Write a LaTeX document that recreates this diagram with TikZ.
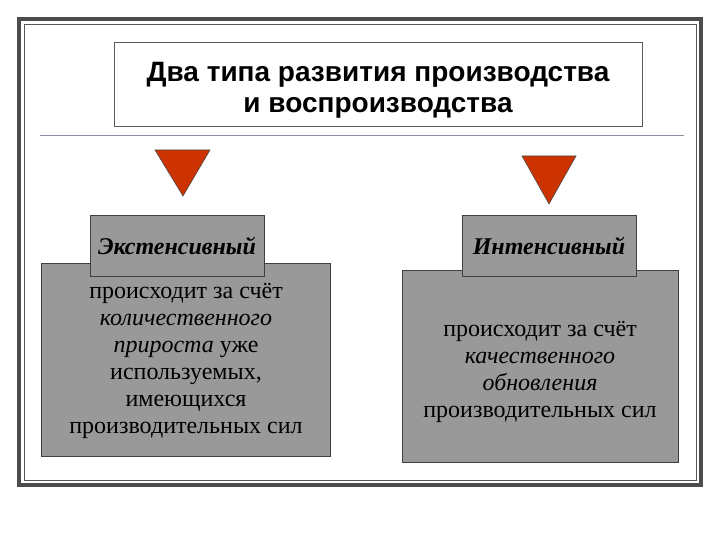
\documentclass[tikz,border=0pt]{standalone}
\usepackage{fontspec}
\setmainfont{Liberation Serif}
\newfontfamily\titlefont{Liberation Sans}
\definecolor{trired}{RGB}{204,51,0}
\begin{document}
\begin{tikzpicture}[x=1pt,y=-1pt,
  redtri/.style={fill=trired, draw=black!70, line width=0.6pt},
  labelbox/.style={draw=black!75, fill=black!40, line width=1pt},
  bigbox/.style={draw=black!75, fill=black!40, line width=1pt},
  bodytext/.style={align=center, font=\fontsize{24}{27}\selectfont, text=black},
  labeltext/.style={font=\fontsize{24}{26}\selectfont\bfseries\itshape}
]
\useasboundingbox (0,0) rectangle (720,540);
% frame
\draw[line width=4pt, draw=black!70] (19,19) rectangle (701,485);
\draw[line width=0.8pt, draw=black!65] (24,24) rectangle (696,480);
% title
\draw[line width=0.8pt, draw=black!65] (114,42) rectangle (642,126);
\node[font=\titlefont\fontsize{28}{31}\selectfont\bfseries, align=center] (title) at (378,90)
  {Два типа развития производства\\и воспроизводства};
\draw[line width=0.6pt, draw=blue!20!black!45] (40,135) -- (684,135);
% triangles
\draw[redtri] (155,150) -- (210,150) -- (183,196) -- cycle;
\draw[redtri] (522,156) -- (576,156) -- (549,204) -- cycle;
% left
\draw[bigbox] (41,263) rectangle (330,456);
\node[bodytext] (ltext) at (186,361)
  {происходит за счёт\\\textit{количественного}\\\textit{прироста} уже\\используемых,\\имеющихся\\производительных сил};
\draw[labelbox] (90,216) rectangle (264,276);
\node[labeltext] (llab) at (177,246) {Экстенсивный};
% right
\draw[bigbox] (402,270) rectangle (678,462);
\node[bodytext] (rtext) at (540,371.5)
  {происходит за счёт\\\textit{качественного}\\\textit{обновления}\\производительных сил};
\draw[labelbox] (462,216) rectangle (636,276);
\node[labeltext] (rlab) at (549,246) {Интенсивный};
\end{tikzpicture}
\end{document}
